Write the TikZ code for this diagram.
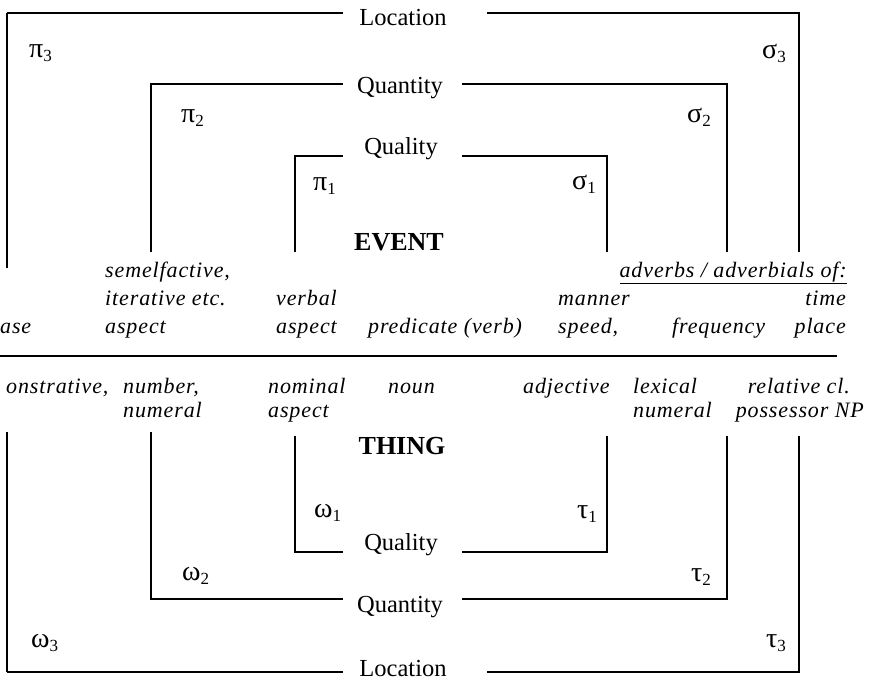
\documentclass[tikz,border=0pt]{standalone}
\usepackage{fontspec}
\setmainfont{Liberation Serif}
\newfontfamily\exfont[LetterSpace=4]{Liberation Serif}
\newcommand\gsub[2]{#1\raisebox{-0.35ex}{\fontsize{17}{17}\selectfont #2}}
\tikzset{
  lab/.style={font=\fontsize{24.5}{26}\selectfont, inner sep=0pt, anchor=base},
  ex/.style={font=\exfont\itshape\fontsize{22}{24}\selectfont, inner sep=0pt},
  gk/.style={font=\fontsize{28}{30}\selectfont, inner sep=0pt, anchor=base west},
  head/.style={font=\bfseries\fontsize{26}{28}\selectfont, inner sep=0pt, anchor=base},
  rule/.style={line width=1.3pt},
  heavy/.style={line width=2pt},
}
\begin{document}
\begin{tikzpicture}[x=1pt,y=-1pt]
\useasboundingbox (0,0) rectangle (871,680);
\clip (0,0) rectangle (871,680);

% ---------- EVENT layers ----------
\node[lab] (locE) at (403,25) {Location};
\node[lab] (quaE) at (400,93) {Quantity};
\node[lab] (qlE)  at (401,154) {Quality};

\draw[heavy] (7,268) -- (7,13);
\draw[rule] (7,13) -- (343,13);
\draw[rule] (487,13) -- (799,13) -- (799,252);
\draw[rule] (151,252) |- (343,84);
\draw[rule] (462,84) -| (727,252);
\draw[rule] (295,252) |- (343,156);
\draw[rule] (462,156) -| (607,252);

\node[gk] (pi3) at (29,57)  {\gsub{π}{3}};
\node[gk] (pi2) at (181,122) {\gsub{π}{2}};
\node[gk] (pi1) at (313,190) {\gsub{π}{1}};
\node[gk] (si3) at (762,58)  {\gsub{σ}{3}};
\node[gk] (si2) at (687,122) {\gsub{σ}{2}};
\node[gk] (si1) at (572,189) {\gsub{σ}{1}};

\node[head] (event) at (399,250) {EVENT};

% event-side expressions
\node[ex, anchor=base west] (tense) at (0,333) {ase};
\node[ex, anchor=base west] (sem1) at (105,277) {semelfactive,};
\node[ex, anchor=base west] (sem2) at (105,305) {iterative etc.};
\node[ex, anchor=base west] (sem3) at (105,333) {aspect};
\node[ex, anchor=base west] (va1) at (276,305) {verbal};
\node[ex, anchor=base west] (va2) at (276,333) {aspect};
\node[ex, anchor=base west] (pred) at (368,333) {predicate (verb)};
\node[ex, anchor=base east] (adv) at (847,277) {\underline{adverbs / adverbials of:}};
\node[ex, anchor=base west] (man1) at (558,305) {manner};
\node[ex, anchor=base west] (man2) at (558,333) {speed,};
\node[ex, anchor=base west] (freq) at (672,333) {frequency};
\node[ex, anchor=base east] (time) at (846,305) {time};
\node[ex, anchor=base east] (place) at (846,333) {place};

% divider
\draw[rule] (0,356) -- (837,356);

% thing-side expressions
\node[ex, anchor=base west] (dem) at (6,393) {onstrative,};
\node[ex, anchor=base west] (num1) at (123,393) {number,};
\node[ex, anchor=base west] (num2) at (123,417) {numeral};
\node[ex, anchor=base west] (na1) at (268,393) {nominal};
\node[ex, anchor=base west] (na2) at (268,417) {aspect};
\node[ex, anchor=base west] (noun) at (388,393) {noun};
\node[ex, anchor=base west] (adj) at (523,393) {adjective};
\node[ex, anchor=base west] (lex1) at (633,393) {lexical};
\node[ex, anchor=base west] (lex2) at (633,417) {numeral};
\node[ex, anchor=base east] (rel1) at (850,393) {relative cl.};
\node[ex, anchor=base east] (rel2) at (864,417) {possessor NP};

% ---------- THING layers ----------
\node[head] (thing) at (402,454) {THING};

\draw[heavy] (7,432) -- (7,672);
\draw[rule] (7,672) -- (343,672);
\draw[rule] (487,672) -- (799,672) -- (799,436);
\draw[rule] (151,432) |- (343,599);
\draw[rule] (462,599) -| (727,436);
\draw[rule] (295,436) |- (343,552);
\draw[rule] (462,552) -| (607,436);

\node[lab] (qlT)  at (401,550) {Quality};
\node[lab] (quaT) at (400,612) {Quantity};
\node[lab] (locT) at (403,676) {Location};

\node[gk] (om1) at (314,517) {\gsub{ω}{1}};
\node[gk] (om2) at (182,580) {\gsub{ω}{2}};
\node[gk] (om3) at (31,647)  {\gsub{ω}{3}};
\node[gk] (ta1) at (577,518) {\gsub{τ}{1}};
\node[gk] (ta2) at (691,581) {\gsub{τ}{2}};
\node[gk] (ta3) at (766,647) {\gsub{τ}{3}};
\end{tikzpicture}
\end{document}
